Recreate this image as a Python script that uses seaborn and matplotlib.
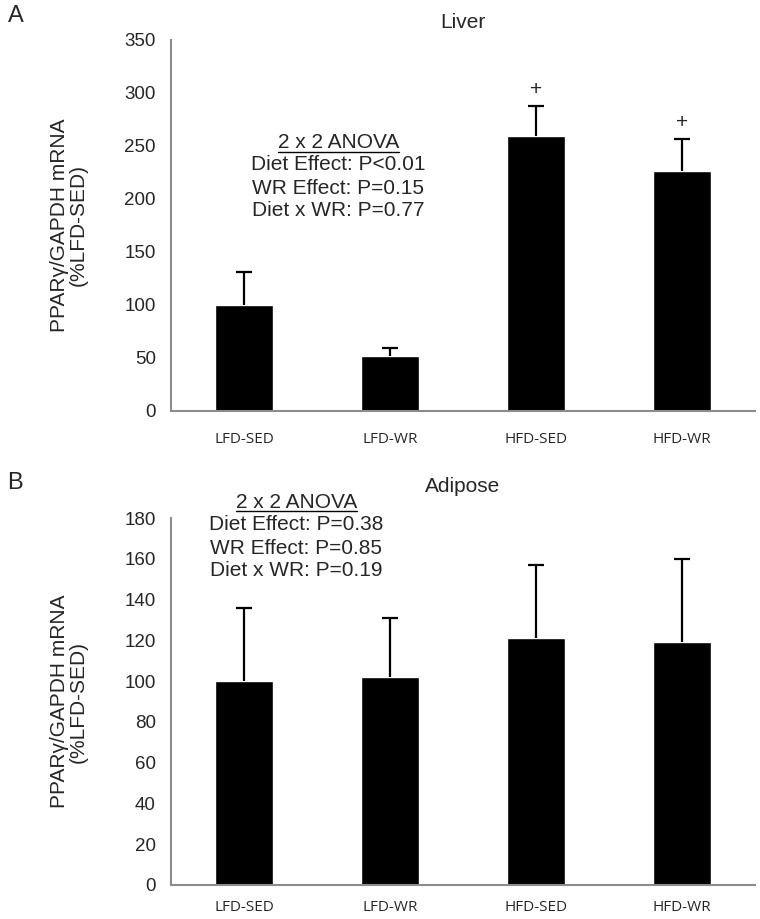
import numpy as np
import pandas as pd
import matplotlib
matplotlib.use("Agg")
import matplotlib.pyplot as plt
import seaborn as sns
from matplotlib.lines import Line2D

groups = ["LFD-SED", "LFD-WR", "HFD-SED", "HFD-WR"]
liver_mean = [100, 52, 259, 226]
liver_err = [31, 7, 29, 31]
adipose_mean = [100, 102, 121, 119]
adipose_err = [36, 29, 36, 41]
liver_marks = ["", "", "+", "+"]
liver_stats = ["Diet Effect: P<0.01", "WR Effect: P=0.15", "Diet x WR: P=0.77"]
adipose_stats = ["Diet Effect: P=0.38", "WR Effect: P=0.85", "Diet x WR: P=0.19"]

sns.set_style("white")
plt.rcParams["font.family"] = ["Liberation Sans", "DejaVu Sans"]

fig = plt.figure(figsize=(7.6, 9.19), dpi=100)
ax1 = fig.add_axes([0.225, 0.5528, 0.768, 0.4037])
ax2 = fig.add_axes([0.225, 0.0370, 0.768, 0.3993])


def panel(ax, means, errs, ymax, step, xpad):
    df = pd.DataFrame({"group": groups, "value": means})
    sns.barplot(data=df, x="group", y="value", color="black", width=0.4,
                errorbar=None, ax=ax, saturation=1)
    x = np.arange(len(groups))
    tops = np.array(means) + np.array(errs)
    # upper-only error bars
    ax.vlines(x, means, tops, color="black", lw=1.6)
    ax.plot(x, tops, ls="none", marker="_", ms=12, mew=1.6, color="black")
    ax.set_ylim(0, ymax)
    ax.set_xlim(-0.5, 3.5)
    ax.set_yticks(np.arange(0, ymax + 1, step))
    ax.set_xlabel("")
    ax.set_ylabel("PPARγ/GAPDH mRNA\n(%LFD-SED)", fontsize=15, labelpad=26,
                  linespacing=1.0)
    for s in ["top", "right"]:
        ax.spines[s].set_visible(False)
    for s in ["left", "bottom"]:
        ax.spines[s].set_color("#8c8c8c")
        ax.spines[s].set_linewidth(1.5)
    ax.tick_params(axis="y", length=5, width=1, color="#8c8c8c", labelsize=13.5, pad=6)
    ax.tick_params(axis="x", length=0, pad=xpad)
    for lab in ax.get_xticklabels():
        lab.set_fontfamily(["Open Sans", "DejaVu Sans"])
        lab.set_fontsize(11)


panel(ax1, liver_mean, liver_err, 350, 50, 15)
panel(ax2, adipose_mean, adipose_err, 180, 20, 11)

for i, m in enumerate(liver_marks):
    if m:
        ax1.text(i, liver_mean[i] + liver_err[i] + 15, m, ha="center", va="center",
                 fontsize=15)

fig.text(463 / 760, 1 - 22 / 919, "Liver", ha="center", va="center", fontsize=15)
fig.text(463 / 760, 1 - 487 / 919, "Adipose", ha="center", va="center", fontsize=15)
fig.text(0.010, 1 - 16 / 919, "A", fontsize=17, va="center")
fig.text(0.010, 1 - 483 / 919, "B", fontsize=17, va="center")


def stats_block(xc, ys, lines):
    head = fig.text(xc, ys[0], "2 x 2 ANOVA", ha="center", va="center", fontsize=15)
    for y, t in zip(ys[1:], lines):
        fig.text(xc, y, t, ha="center", va="center", fontsize=15)
    fig.canvas.draw()
    bb = head.get_window_extent().transformed(fig.transFigure.inverted())
    fig.add_artist(Line2D([bb.x0, bb.x1], [bb.y0 + 0.001, bb.y0 + 0.001],
                          transform=fig.transFigure, color="black", lw=1))


stats_block(0.445, [1 - 143 / 919, 1 - 165 / 919, 1 - 188 / 919, 1 - 211 / 919], liver_stats)
stats_block(0.390, [1 - 502 / 919, 1 - 525 / 919, 1 - 548 / 919, 1 - 571 / 919], adipose_stats)

fig.savefig("out.png", dpi=100)
